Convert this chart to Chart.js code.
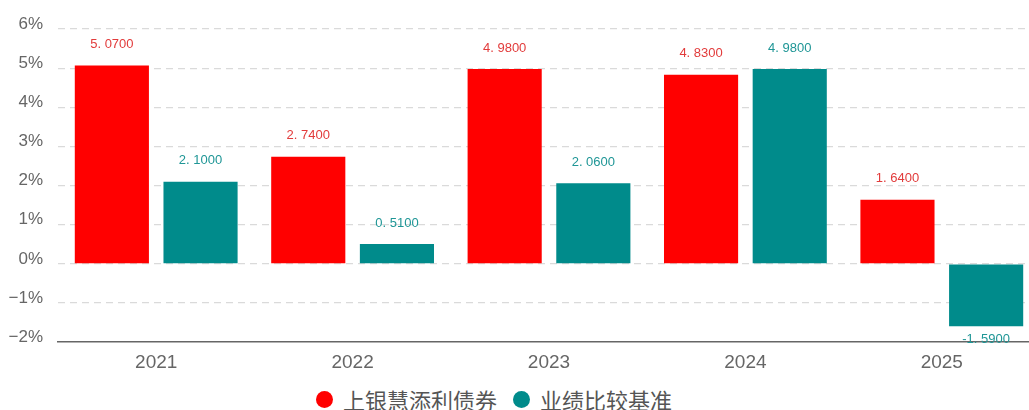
<!DOCTYPE html>
<html lang="zh">
<head>
  <meta charset="UTF-8">
  <title>上银慧添利债券</title>
  <script src="https://cdn.jsdelivr.net/npm/chart.js"></script>
  <style>
    html, body { margin: 0; padding: 0; background: #fff; overflow: hidden; }
    #wrap { position: absolute; left: 0; top: 0; width: 1040px; height: 383px; }
    #legend {
      position: absolute; top: 383px; left: 316px;
      font-family: "Noto Sans CJK SC", sans-serif; font-size: 22px; color: #555;
      display: flex; align-items: center; white-space: nowrap;
    }
    #legend span.dot { display: inline-block; width: 17px; height: 17px; border-radius: 50%; margin-right: 10px; }
    #legend span.item { display: inline-flex; align-items: center; margin-right: 16px; }
  </style>
</head>
<body>
  <div id="wrap"><canvas id="chart"></canvas></div>
  <div id="legend"></div>
  <script>
    const years = ['2021', '2022', '2023', '2024', '2025'];
    const fundReturns = [5.07, 2.74, 4.98, 4.83, 1.64];
    const benchmark = [2.10, 0.51, 2.06, 4.98, -1.59];
    const seriesNames = ['上银慧添利债券', '业绩比较基准'];
    const barColors = ['#ff0000', '#008b8b'];
    const labelColors = ['#e23b3b', '#1f9696'];

    // value labels above/below each bar
    const valueLabels = {
      id: 'valueLabels',
      afterDatasetsDraw(chart) {
        const ctx = chart.ctx;
        ctx.save();
        ctx.font = '13px "Liberation Sans", Arial, sans-serif';
        ctx.textAlign = 'center';
        ctx.textBaseline = 'middle';
        chart.data.datasets.forEach((ds, i) => {
          const meta = chart.getDatasetMeta(i);
          ctx.fillStyle = labelColors[i];
          meta.data.forEach((bar, j) => {
            const v = ds.data[j];
            const txt = v.toFixed(4).replace('.', '. ');
            const y = v >= 0 ? bar.y - 21 : bar.y + 13;
            ctx.fillText(txt, bar.x, y);
          });
        });
        ctx.restore();
      }
    };

    const ctx = document.getElementById('chart').getContext('2d');
    new Chart(ctx, {
      type: 'bar',
      data: {
        labels: years,
        datasets: [
          { label: seriesNames[0], data: fundReturns, backgroundColor: barColors[0] },
          { label: seriesNames[1], data: benchmark, backgroundColor: barColors[1] }
        ]
      },
      options: {
        responsive: true,
        maintainAspectRatio: false,
        animation: false,
        categoryPercentage: 0.903,
        barPercentage: 0.836,
        layout: { padding: { top: 29, right: 0, bottom: 0, left: 0 } },
        plugins: {
          legend: { display: false },
          tooltip: { enabled: false }
        },
        scales: {
          x: {
            grid: { display: false, drawTicks: false },
            border: { display: true, color: '#666', width: 1.5 },
            ticks: {
              color: '#666',
              padding: 9,
              font: { family: '"Liberation Sans", Arial, sans-serif', size: 19 }
            }
          },
          y: {
            min: -2,
            max: 6,
            afterFit: (s) => { s.width = 58; },
            border: { display: false, dash: [7, 5] },
            grid: {
              drawTicks: false,
              color: (c) => c.tick && c.tick.value === -2 ? 'rgba(0,0,0,0)' : '#dadada',
              lineWidth: 1.2
            },
            ticks: {
              stepSize: 1,
              padding: 15,
              labelOffset: -5,
              color: '#666',
              font: { family: '"Liberation Sans", Arial, sans-serif', size: 17 },
              callback: (v) => (v < 0 ? '\u2212' + Math.abs(v) : v) + '%'
            }
          }
        }
      },
      plugins: [valueLabels]
    });

    const legend = document.getElementById('legend');
    seriesNames.forEach((name, i) => {
      const item = document.createElement('span');
      item.className = 'item';
      item.innerHTML = '<span class="dot" style="background:' + barColors[i] + '"></span>' + name;
      legend.appendChild(item);
    });
  </script>
</body>
</html>
